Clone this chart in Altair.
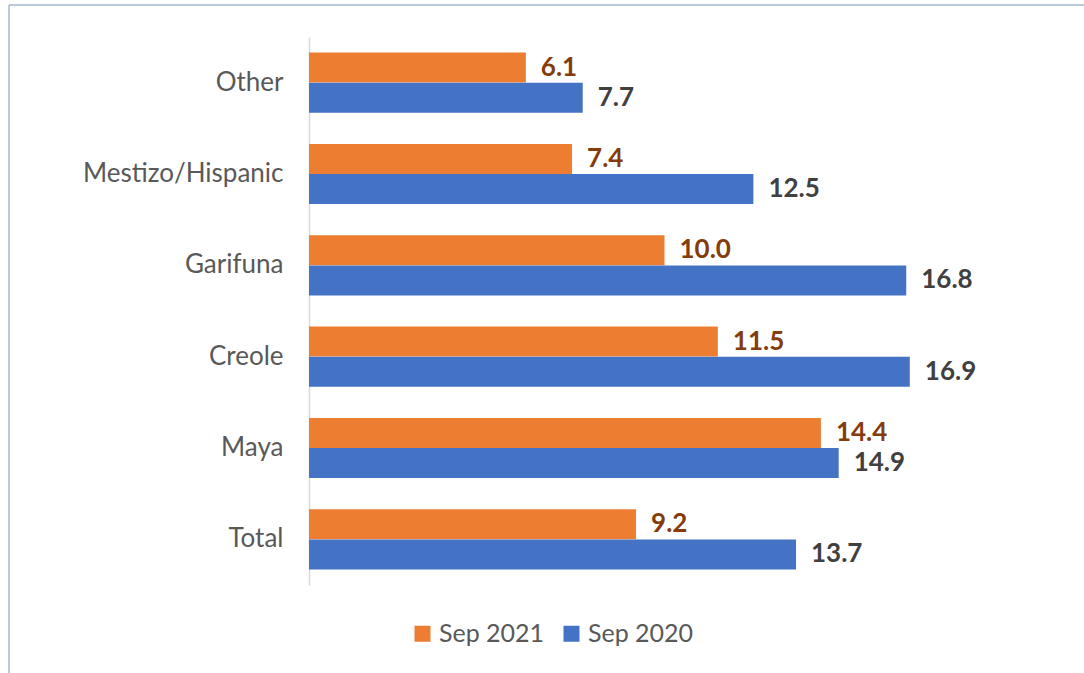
import altair as alt
import pandas as pd

categories = ["Other", "Mestizo/Hispanic", "Garifuna", "Creole", "Maya", "Total"]
sep2021 = [6.1, 7.4, 10.0, 11.5, 14.4, 9.2]
sep2020 = [7.7, 12.5, 16.8, 16.9, 14.9, 13.7]
series = ["Sep 2021", "Sep 2020"]
colors = ["#ED7D31", "#4472C4"]

rows = []
for c, a, b in zip(categories, sep2021, sep2020):
    rows.append({"cat": c, "series": "Sep 2021", "value": a})
    rows.append({"cat": c, "series": "Sep 2020", "value": b})
df = pd.DataFrame(rows)

FONT = "Lato"
W, H = 711, 548

y_enc = alt.Y("cat:N", sort=categories, title=None,
              scale=alt.Scale(paddingInner=0.34, paddingOuter=0.17),
              axis=alt.Axis(domain=True, domainColor="#D9D9D9", domainWidth=1.5,
                            ticks=False, labelPadding=26, labelFontSize=26, labelLimit=400,
                            labelColor="#595959", labelFont=FONT, grid=False))
x_enc = alt.X("value:Q", scale=alt.Scale(domain=[0, 20]), axis=None)
yoff = alt.YOffset("series:N", sort=series, scale=alt.Scale(domain=series))

base = alt.Chart(df)

bars = base.mark_bar(size=30).encode(
    y=y_enc, x=x_enc, yOffset=yoff,
    color=alt.Color("series:N", scale=alt.Scale(domain=series, range=colors),
                    legend=alt.Legend(title=None, orient="none", direction="horizontal",
                                      legendX=101, legendY=584, symbolType="square",
                                      symbolSize=256, symbolStrokeWidth=0,
                                      labelFontSize=25, labelFont=FONT, labelColor="#595959",
                                      columnPadding=14, labelOffset=4)),
)

labels = base.mark_text(align="left", baseline="middle", dx=15, fontSize=26,
                        fontWeight="bold", font=FONT).encode(
    y=alt.Y("cat:N", sort=categories), x=x_enc, yOffset=yoff,
    text=alt.Text("value:Q", format=".1f"),
    color=alt.condition(alt.datum.series == "Sep 2021", alt.value("#843C0C"), alt.value("#404040")),
)

border_top = alt.Chart(pd.DataFrame({"a": [0]})).mark_rule(color="#A9B8CC", strokeWidth=1.5).encode(
    x=alt.value(-300), x2=alt.value(800), y=alt.value(-32))
border_left = alt.Chart(pd.DataFrame({"a": [0]})).mark_rule(color="#A9B8CC", strokeWidth=1.5).encode(
    x=alt.value(-300), y=alt.value(-32), y2=alt.value(700))

chart = alt.layer(bars, labels, border_top, border_left).properties(
    width=W, height=H,
    autosize=alt.AutoSizeParams(type="none"),
    padding={"left": 309, "top": 37, "right": 64, "bottom": 88},
    background="white",
).configure_view(stroke=None)

chart.save("out.html", embed_options={"renderer": "svg", "actions": False})
